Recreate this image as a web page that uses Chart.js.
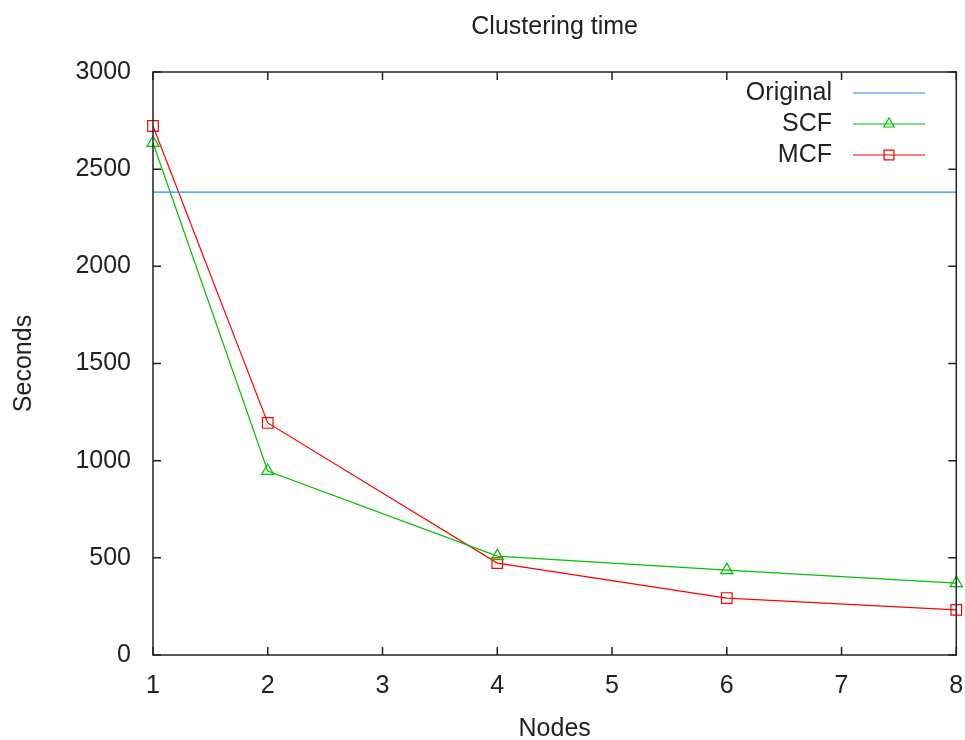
<!DOCTYPE html>
<html>
<head>
<meta charset="utf-8">
<script src="https://cdn.jsdelivr.net/npm/chart.js@4"></script>
<style>
  body { margin: 0; background: #fff; }
</style>
</head>
<body>
<canvas id="myChart" width="965" height="740"></canvas>
<script>
// data
var nodes = [1, 2, 4, 6, 8];
var scfSeconds = [2635, 947, 509, 437, 370];
var mcfSeconds = [2722, 1194, 473, 293, 232];
var originalSeconds = 2382;
var originalRange = [1, 8];
var yTicks = [0, 500, 1000, 1500, 2000, 2500, 3000];
var xTicks = [1, 2, 3, 4, 5, 6, 7, 8];

var FONT = 'Liberation Sans, Arial, sans-serif';
var BLUE = 'rgb(26,140,255)';
var GREEN = 'rgb(0,192,0)';
var RED = 'rgb(255,0,0)';

function toPoints(xs, ys) {
    return xs.map(function (x, i) { return { x: x, y: ys[i] }; });
}

// gnuplot style frame, inward ticks and legend box
var gnuplotFrame = {
    id: 'gnuplotFrame',
    afterDraw: function (chart) {
        var ctx = chart.ctx;
        var a = chart.chartArea;
        var xs = chart.scales.x, ys = chart.scales.y;
        var tick = 8;
        ctx.save();
        ctx.strokeStyle = '#222';
        ctx.lineWidth = 1.5;
        ctx.strokeRect(a.left, a.top, a.right - a.left, a.bottom - a.top);
        ctx.beginPath();
        yTicks.forEach(function (v) {
            var py = ys.getPixelForValue(v);
            ctx.moveTo(a.left, py); ctx.lineTo(a.left + tick, py);
            ctx.moveTo(a.right, py); ctx.lineTo(a.right - tick, py);
        });
        xTicks.forEach(function (v) {
            var px = xs.getPixelForValue(v);
            ctx.moveTo(px, a.bottom); ctx.lineTo(px, a.bottom - tick);
            ctx.moveTo(px, a.top); ctx.lineTo(px, a.top + tick);
        });
        ctx.stroke();

        // legend
        var rows = [
            { label: 'Original', color: BLUE, marker: null },
            { label: 'SCF', color: GREEN, marker: 'triangle' },
            { label: 'MCF', color: RED, marker: 'rect' }
        ];
        ctx.font = '25px ' + FONT;
        ctx.textAlign = 'right';
        ctx.textBaseline = 'middle';
        rows.forEach(function (r, i) {
            var y = 93 + i * 31;
            ctx.fillStyle = '#222';
            ctx.fillText(r.label, 832, y);
            ctx.strokeStyle = r.color;
            ctx.lineWidth = 1.2;
            ctx.beginPath();
            ctx.moveTo(853, y); ctx.lineTo(925, y);
            ctx.stroke();
            if (r.marker) {
                ctx.fillStyle = 'rgba(0,0,0,0)';
                Chart.helpers.drawPoint(ctx, {
                    pointStyle: r.marker, radius: r.marker === 'rect' ? 7 : 6,
                    rotation: 0, borderWidth: 1.2
                }, 889, y);
            }
        });
        ctx.restore();
    }
};

var ctx = document.getElementById('myChart').getContext('2d');
var chart = new Chart(ctx, {
    type: 'line',
    data: {
        datasets: [
            {
                label: 'Original',
                data: toPoints(originalRange, [originalSeconds, originalSeconds]),
                borderColor: BLUE,
                borderWidth: 1.2,
                pointRadius: 0,
                clip: false
            },
            {
                label: 'SCF',
                data: toPoints(nodes, scfSeconds),
                borderColor: GREEN,
                backgroundColor: 'rgba(0,0,0,0)',
                borderWidth: 1.2,
                pointStyle: 'triangle',
                pointRadius: 7,
                pointBorderWidth: 1.2,
                clip: false
            },
            {
                label: 'MCF',
                data: toPoints(nodes, mcfSeconds),
                borderColor: RED,
                backgroundColor: 'rgba(0,0,0,0)',
                borderWidth: 1.2,
                pointStyle: 'rect',
                pointRadius: 7.5,
                pointBorderWidth: 1.2,
                clip: false
            }
        ]
    },
    options: {
        responsive: false,
        animation: false,
        events: [],
        layout: { padding: { top: 0, right: 8, bottom: 0, left: 0 } },
        plugins: {
            legend: { display: false },
            tooltip: { enabled: false },
            title: {
                display: true,
                text: 'Clustering time',
                fullSize: false,
                color: '#222',
                font: { family: FONT, size: 25, weight: 'normal', lineHeight: 1 },
                padding: { top: 15, bottom: 32 }
            }
        },
        scales: {
            x: {
                type: 'linear',
                min: 1,
                max: 8,
                afterFit: function (s) { s.height = 85; s.paddingRight = 0; s.paddingLeft = 0; },
                afterBuildTicks: function (s) { s.ticks = xTicks.map(function (v) { return { value: v }; }); },
                grid: { display: false, drawTicks: false },
                border: { display: false },
                ticks: {
                    color: '#222', padding: 16, maxRotation: 0, font: { family: FONT, size: 25 },
                    callback: function (v) { return String(v); }
                },
                title: {
                    display: true, text: 'Nodes', color: '#222',
                    font: { family: FONT, size: 25, lineHeight: 0.85 },
                    padding: 0
                }
            },
            y: {
                min: 0,
                max: 3000,
                afterFit: function (s) { s.width = 153; },
                afterBuildTicks: function (s) { s.ticks = yTicks.map(function (v) { return { value: v }; }); },
                grid: { display: false, drawTicks: false },
                border: { display: false },
                ticks: {
                    color: '#222', padding: 22, font: { family: FONT, size: 25 },
                    callback: function (v) { return String(v); }
                },
                title: {
                    display: true, text: 'Seconds', color: '#222',
                    font: { family: FONT, size: 25, lineHeight: 1 },
                    padding: { top: 12, bottom: 0 }
                }
            }
        }
    },
    plugins: [gnuplotFrame]
});
</script>
</body>
</html>
